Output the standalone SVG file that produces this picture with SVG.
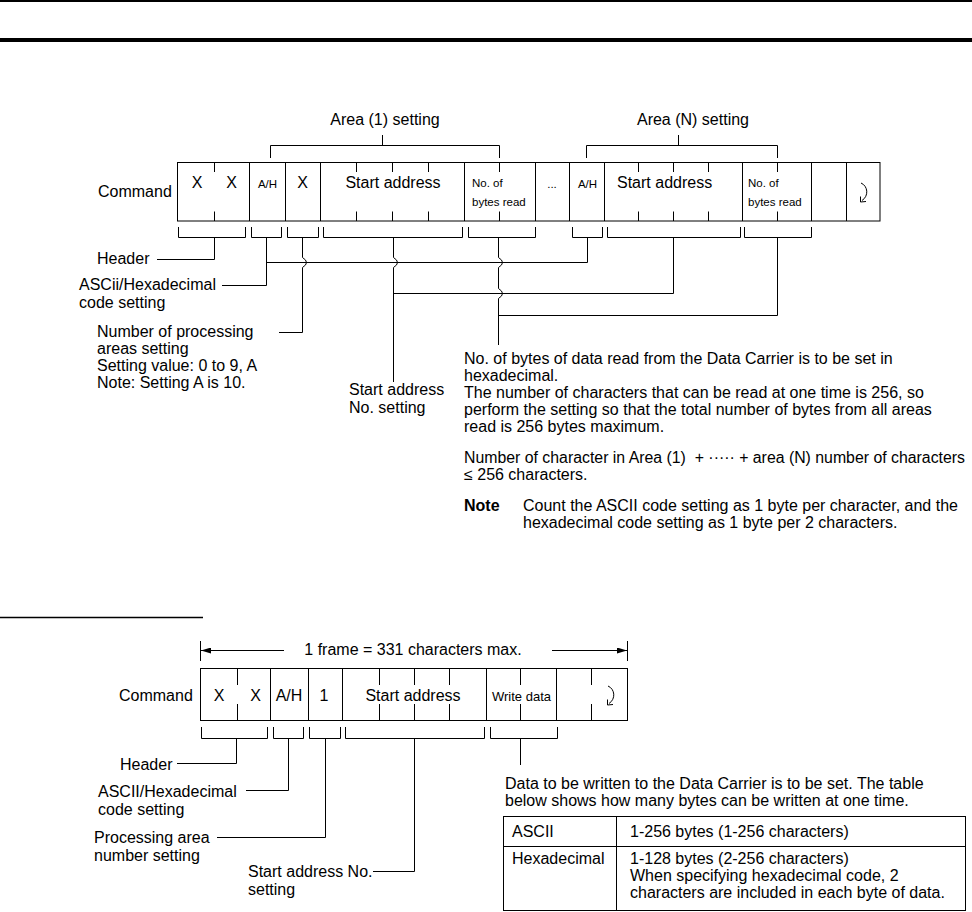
<svg xmlns="http://www.w3.org/2000/svg" xmlns:xlink="http://www.w3.org/1999/xlink" width="972" height="912" viewBox="0 0 972 912">
<style>
.t{font-family:"Liberation Sans",Arial,Helvetica,sans-serif;font-size:16px;fill:#000}
.s{font-size:11.5px}
.m{text-anchor:middle}
.b{font-weight:bold}
.ln{fill:none;stroke:#000;stroke-width:1}
.box{fill:#fff;stroke:#000;stroke-width:1}
</style>
<defs>
<g id="cr" fill="none" stroke="#000" stroke-width="1">
<path d="M-2,-9 C5,-6 6,4 -1,8.5"/>
<path d="M-2.5,4.5 L-2.5,10 L3,9.5"/>
</g>
<marker id="arr" viewBox="0 0 10 6" refX="10" refY="3" markerWidth="10" markerHeight="6" orient="auto-start-reverse" markerUnits="userSpaceOnUse">
<path d="M0,0 L10,3 L0,6 z" fill="#000"/>
</marker>
</defs>
<rect width="972" height="912" fill="#fff"/>
<g id="page-rules">
<line x1="0" y1="1" x2="972" y2="1" stroke="#000" stroke-width="2"/>
<rect x="0" y="38" width="972" height="4" fill="#000"/>
<line x1="0" y1="617.5" x2="203" y2="617.5" stroke="#000" stroke-width="1.5"/>
</g>

<!-- ===== Read command ===== -->
<g id="read-command">
<text class="t" x="98" y="197">Command</text>
<rect class="box" x="177.5" y="162.5" width="702.5" height="58.5"/>
<path class="ln" d="M249.5 162.5V221 M285.5 162.5V221 M320.5 162.5V221 M464.5 162.5V221 M535.5 162.5V221 M569.5 162.5V221 M604.5 162.5V221 M742.5 162.5V221 M811.5 162.5V221 M846.5 162.5V221"/>
<path class="ln" d="M214.5 162.5V172 M214.5 211.5V221 M356.5 162.5V172 M356.5 211.5V221 M392.5 162.5V172 M392.5 211.5V221 M428.5 162.5V172 M428.5 211.5V221 M499.5 162.5V172 M499.5 211.5V221 M638.5 162.5V172 M638.5 211.5V221 M673.5 162.5V172 M673.5 211.5V221 M708.5 162.5V172 M708.5 211.5V221 M777.5 162.5V172 M777.5 211.5V221"/>
<text class="t m" x="197" y="188">X</text>
<text class="t m" x="231.5" y="188">X</text>
<text class="t s m" x="267.5" y="188">A/H</text>
<text class="t m" x="302.5" y="188">X</text>
<text class="t m" x="393" y="188">Start address</text>
<text class="t s" x="472" y="187">No. of</text>
<text class="t s" x="472" y="206">bytes read</text>
<text class="t s m" x="552" y="188">...</text>
<text class="t s m" x="587.5" y="188">A/H</text>
<text class="t" x="617" y="188">Start address</text>
<text class="t s" x="748" y="187">No. of</text>
<text class="t s" x="748" y="206">bytes read</text>
<use xlink:href="#cr" href="#cr" transform="translate(863,192)"/>
</g>

<g id="area1-label">
<text class="t m" x="385" y="125">Area (1) setting</text>
</g>
<g id="areaN-label">
<text class="t m" x="693" y="125">Area (N) setting</text>
</g>

<g id="header-label"><text class="t" x="97" y="264">Header</text></g>
<g id="ascii-label"><text class="t" x="79" y="290">ASCii/Hexadecimal</text><text class="t" x="79" y="308">code setting</text></g>
<g id="areas-label">
<text class="t" x="97" y="337">Number of processing</text>
<text class="t" x="97" y="354">areas setting</text>
<text class="t" x="97" y="371">Setting value: 0 to 9, A</text>
<text class="t" x="97" y="388">Note: Setting A is 10.</text>
</g>
<g id="start-label"><text class="t" x="349" y="395">Start address</text><text class="t" x="349" y="413">No. setting</text></g>
<g id="bytes-label">
<text class="t" x="464" y="364">No. of bytes of data read from the Data Carrier is to be set in</text>
<text class="t" x="464" y="381">hexadecimal.</text>
<text class="t" x="464" y="398">The number of characters that can be read at one time is 256, so</text>
<text class="t" x="464" y="415">perform the setting so that the total number of bytes from all areas</text>
<text class="t" x="464" y="432">read is 256 bytes maximum.</text>
<text class="t" x="464" y="463" xml:space="preserve" textLength="501" lengthAdjust="spacingAndGlyphs">Number of character in Area (1)  + ····· + area (N) number of characters</text>
<text class="t" x="464" y="480">≤ 256 characters.</text>
<text class="t b" x="464" y="511">Note</text>
<text class="t" x="523" y="511">Count the ASCII code setting as 1 byte per character, and the</text>
<text class="t" x="523" y="528">hexadecimal code setting as 1 byte per 2 characters.</text>
</g>

<!-- ===== Write command ===== -->
<g id="frame-dimension">
<path class="ln" d="M200.5 641V661 M627.5 641V661"/>
<line class="ln" x1="201" y1="650.5" x2="284" y2="650.5" marker-start="url(#arr)"/>
<line class="ln" x1="552" y1="650.5" x2="627" y2="650.5" marker-end="url(#arr)"/>
<text class="t m" x="413" y="655">1 frame = 331 characters max.</text>
</g>
<g id="write-command">
<text class="t" x="119" y="701">Command</text>
<rect class="box" x="200.5" y="668.5" width="427" height="52"/>
<path class="ln" d="M270.5 668.5V720.5 M308.5 668.5V720.5 M342.5 668.5V720.5 M486.5 668.5V720.5 M556.5 668.5V720.5"/>
<path class="ln" d="M237.5 668.5V685 M237.5 704V720.5 M379.5 668.5V685 M379.5 704V720.5 M414.5 668.5V685 M414.5 704V720.5 M449.5 668.5V685 M449.5 704V720.5 M520.5 668.5V685 M520.5 704V720.5 M591.5 668.5V685 M591.5 704V720.5"/>
<text class="t m" x="219" y="701">X</text>
<text class="t m" x="255.5" y="701">X</text>
<text class="t m" x="289" y="701">A/H</text>
<text class="t m" x="324" y="701">1</text>
<text class="t m" x="413" y="701">Start address</text>
<text class="t" x="492" y="701" style="font-size:13px">Write data</text>
<use xlink:href="#cr" href="#cr" transform="translate(610,695)"/>
</g>
<g id="w-header-label"><text class="t" x="120" y="770">Header</text></g>
<g id="w-ascii-label"><text class="t" x="98" y="797">ASCII/Hexadecimal</text><text class="t" x="98" y="815">code setting</text></g>
<g id="w-area-label"><text class="t" x="94" y="843">Processing area</text><text class="t" x="94" y="861">number setting</text></g>
<g id="w-start-label"><text class="t" x="248" y="877">Start address No.</text><text class="t" x="248" y="895">setting</text></g>
<g id="w-data-label">
<text class="t" x="505" y="789">Data to be written to the Data Carrier is to be set. The table</text>
<text class="t" x="505" y="806">below shows how many bytes can be written at one time.</text>
</g>
<g id="bytes-table">
<rect class="box" x="503.5" y="816.5" width="462" height="94"/>
<path class="ln" d="M503.5 846.5H965.5 M616.5 816.5V910.5"/>
<text class="t" x="512" y="837">ASCII</text>
<text class="t" x="630" y="837">1-256 bytes (1-256 characters)</text>
<text class="t" x="512" y="864">Hexadecimal</text>
<text class="t" x="630" y="864">1-128 bytes (2-256 characters)</text>
<text class="t" x="630" y="881">When specifying hexadecimal code, 2</text>
<text class="t" x="630" y="898">characters are included in each byte of data.</text>
</g>

<g id="connectors" class="ln">
<!-- area brackets -->
<path d="M270.5 158V145.5H499.5V158 M382.5 135V145.5"/>
<path d="M586.5 158V145.5H777.5V158 M678.5 135V145.5"/>
<!-- lower brackets read -->
<path d="M178.5 227V237.5H245.5V227 M251.5 227V237.5H281.5V227 M287.5 227V237.5H318.5V227 M323.5 227V237.5H462.5V227 M468.5 227V237.5H535.5V227 M572.5 227V237.5H602.5V227 M607.5 227V237.5H740.5V227 M744.5 227V237.5H811.5V227"/>
<!-- stems read -->
<path d="M214.5 237.5V259.5H157"/>
<path d="M266.5 237.5V285.5H222"/>
<path d="M266.5 262.5H587.5V237.5"/>
<path d="M302.5 237.5V257.5q8 5 0 10V332.5H279"/>
<path d="M393.5 237.5V257.5q8 5 0 10V382"/>
<path d="M393.5 293.5H673.5V237.5"/>
<path d="M498.5 237.5V257.5q8 5 0 10V288.5q8 5 0 10V345"/>
<path d="M498.5 315.5H777.5V237.5"/>
<!-- lower brackets write -->
<path d="M201.5 727V738.5H267.5V727 M273.5 727V738.5H303.5V727 M309.5 727V738.5H340.5V727 M345.5 727V738.5H484.5V727 M490.5 727V738.5H557.5V727"/>
<path d="M236.5 738.5V763.5H177"/>
<path d="M288.5 738.5V790.5H246"/>
<path d="M325.5 738.5V837.5H217"/>
<path d="M414.5 738.5V871.5H373"/>
<path d="M520.5 738.5V765"/>
</g>
</svg>
